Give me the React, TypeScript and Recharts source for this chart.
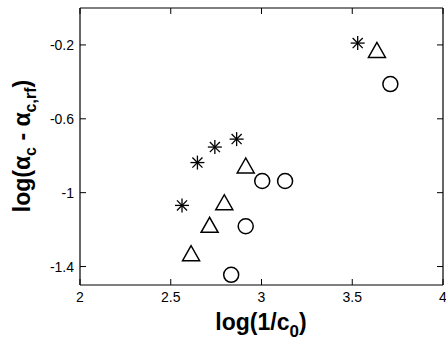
import React from "react";
import { ScatterChart, Scatter, XAxis, YAxis } from "recharts";

// values: log(1/c0) vs log(alpha_c - alpha_c,rf)
const starX = [2.562, 2.647, 2.743, 2.863, 3.53];
const starY = [-1.069, -0.837, -0.753, -0.71, -0.19];
const triX = [2.612, 2.714, 2.795, 2.913, 3.636];
const triY = [-1.336, -1.182, -1.06, -0.861, -0.235];
const circX = [2.833, 2.913, 3.004, 3.13, 3.71];
const circY = [-1.445, -1.182, -0.937, -0.937, -0.412];

const xTicks = [2, 2.5, 3, 3.5, 4];
const yTicks = [-1.4, -1, -0.6, -0.2];

const toPoints = (xs: number[], ys: number[]) => xs.map((x, i) => ({ x, y: ys[i] }));
const stars = toPoints(starX, starY);
const triangles = toPoints(triX, triY);
const circles = toPoints(circX, circY);

const FONT = "'Liberation Sans', Arial, Helvetica, sans-serif";
const TICK_LEN = 6;
const X_MARGIN = 7;
const Y_MARGIN = 6;

const Star = (p: any) => {
  const { cx, cy } = p;
  const r = 7;
  const d = r * 0.72;
  return (
    <g stroke="#000" strokeWidth={1.3}>
      <line x1={cx - r} y1={cy} x2={cx + r} y2={cy} />
      <line x1={cx} y1={cy - r} x2={cx} y2={cy + r} />
      <line x1={cx - d} y1={cy - d} x2={cx + d} y2={cy + d} />
      <line x1={cx - d} y1={cy + d} x2={cx + d} y2={cy - d} />
    </g>
  );
};

const Triangle = (p: any) => {
  const { cx, cy } = p;
  const w = 8.5;
  return (
    <polygon
      points={`${cx},${cy - 9} ${cx - w},${cy + 6} ${cx + w},${cy + 6}`}
      fill="none"
      stroke="#000"
      strokeWidth={1.5}
    />
  );
};

const Circle = (p: any) => {
  const { cx, cy } = p;
  return <circle cx={cx} cy={cy} r={7.5} fill="none" stroke="#000" strokeWidth={1.5} />;
};

// inward ticks, matlab style
const BottomTick = (p: any) => {
  const { x, y, payload } = p;
  const ay = y - X_MARGIN;
  return (
    <g>
      <line x1={x} y1={ay} x2={x} y2={ay - TICK_LEN} stroke="#000" />
      <text x={x} y={y} dy="0.71em" textAnchor="middle" fontSize={14} fontFamily={FONT} fill="#000">
        {payload.value}
      </text>
    </g>
  );
};

const LeftTick = (p: any) => {
  const { x, y, payload } = p;
  const ax = x + Y_MARGIN;
  return (
    <g>
      <line x1={ax} y1={y} x2={ax + TICK_LEN} y2={y} stroke="#000" />
      <text x={x} y={y} dy="0.355em" textAnchor="end" fontSize={14} fontFamily={FONT} fill="#000">
        {payload.value}
      </text>
    </g>
  );
};

const TopTick = (p: any) => {
  const { x, y } = p;
  return <line x1={x} y1={y} x2={x} y2={y + TICK_LEN} stroke="#000" />;
};

const RightTick = (p: any) => {
  const { x, y } = p;
  return <line x1={x} y1={y} x2={x - TICK_LEN} y2={y} stroke="#000" />;
};

const XLabel = () => (
  <text x={261} y={330} textAnchor="middle" fontFamily={FONT} fontWeight="bold" fontSize={23} fill="#000">
    log(1/c<tspan dy={7} fontSize={17}>0</tspan>
    <tspan dy={-7}>)</tspan>
  </text>
);

const YLabel = () => (
  <text
    x={0}
    y={0}
    transform="translate(30,146) rotate(-90)"
    textAnchor="middle"
    fontFamily={FONT}
    fontWeight="bold"
    fontSize={23}
    fill="#000"
  >
    log(α<tspan dy={6} fontSize={16}>c</tspan>
    <tspan dy={-6}> - α</tspan>
    <tspan dy={6} fontSize={16}>c,rf</tspan>
    <tspan dy={-6}>)</tspan>
  </text>
);

const App = () => (
  <div style={{ position: "absolute", left: 0, top: 0 }}>
    <ScatterChart width={446} height={344} margin={{ top: 7, right: 2, left: 0, bottom: 0 }}>
      <XAxis
        type="number"
        dataKey="x"
        domain={[2, 4]}
        ticks={xTicks}
        height={59}
        tickSize={0}
        tickMargin={X_MARGIN}
        tickLine={false}
        tick={<BottomTick />}
        axisLine={{ stroke: "#000", strokeWidth: 1.2 }}
        interval={0}
        label={XLabel}
      />
      <XAxis
        xAxisId="top"
        orientation="top"
        type="number"
        dataKey="x"
        domain={[2, 4]}
        ticks={xTicks}
        height={1}
        tickSize={0}
        tickMargin={0}
        tickLine={false}
        tick={<TopTick />}
        axisLine={{ stroke: "#000", strokeWidth: 1.2 }}
        interval={0}
      />
      <YAxis
        type="number"
        dataKey="y"
        domain={[-1.5, 0]}
        ticks={yTicks}
        width={80}
        tickSize={0}
        tickMargin={Y_MARGIN}
        tickLine={false}
        tick={<LeftTick />}
        axisLine={{ stroke: "#000", strokeWidth: 1.2 }}
        interval={0}
        label={YLabel}
      />
      <YAxis
        yAxisId="right"
        orientation="right"
        type="number"
        dataKey="y"
        domain={[-1.5, 0]}
        ticks={yTicks}
        width={1}
        tickSize={0}
        tickMargin={0}
        tickLine={false}
        tick={<RightTick />}
        axisLine={{ stroke: "#000", strokeWidth: 1.2 }}
        interval={0}
      />
      <Scatter data={stars} shape={<Star />} isAnimationActive={false} />
      <Scatter data={triangles} shape={<Triangle />} isAnimationActive={false} />
      <Scatter data={circles} shape={<Circle />} isAnimationActive={false} />
      <Scatter
        data={circles}
        xAxisId="top"
        yAxisId="right"
        shape={() => <g />}
        isAnimationActive={false}
      />
    </ScatterChart>
  </div>
);

export default App;
